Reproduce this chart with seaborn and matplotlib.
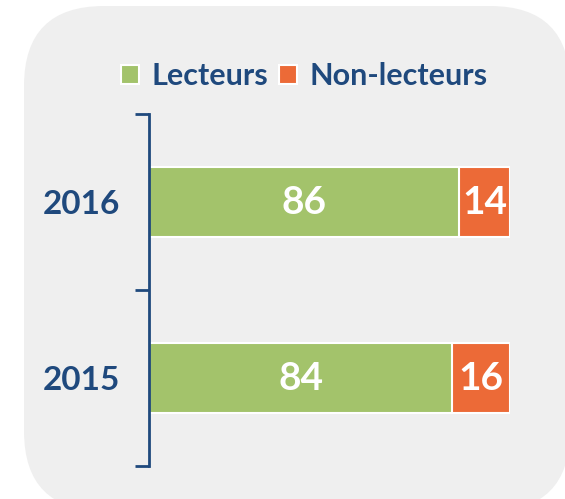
import matplotlib
matplotlib.use("Agg")
import matplotlib.pyplot as plt
from matplotlib.patches import FancyBboxPatch, Patch
import pandas as pd
import seaborn as sns

# data
years = ["2016", "2015"]
lecteurs = [86, 84]
non_lecteurs = [14, 16]

GREEN = "#A3C36B"
ORANGE = "#EC6A37"
NAVY = "#1F497D"
PANEL = "#EFEFEF"
WEIGHT = "bold"

df = pd.DataFrame({"annee": years, "lecteurs": lecteurs, "non_lecteurs": non_lecteurs})
df["total"] = df["lecteurs"] + df["non_lecteurs"]

sns.set_theme(style="white")
plt.rcParams["font.family"] = ["Lato", "DejaVu Sans"]

fig = plt.figure(figsize=(5.65, 4.99), dpi=100)
fig.patch.set_facecolor("white")

# rounded grey panel (pixel coordinates), kept behind the axes
panel = FancyBboxPatch((24, -12), 546, 505, boxstyle="round,pad=0,rounding_size=80",
                       transform=None, facecolor=PANEL, edgecolor="none", zorder=-5)
fig.patches.append(panel)

ax = fig.add_axes([0.2637, 0.0661, 0.639, 0.7054])
ax.set_facecolor("none")

# stacked bars: total (orange) underneath, lecteurs (green) on top
sns.barplot(data=df, x="total", y="annee", color=ORANGE, width=0.4,
            edgecolor="white", linewidth=1.5, saturation=1, ax=ax)
sns.barplot(data=df, x="lecteurs", y="annee", color=GREEN, width=0.4,
            edgecolor="white", linewidth=1.5, saturation=1, ax=ax)

for i, row in df.iterrows():
    ax.text(row["lecteurs"] / 2, i, str(row["lecteurs"]), ha="center", va="center",
            color="white", fontsize=28, fontweight=WEIGHT)
    ax.text(row["lecteurs"] + row["non_lecteurs"] / 2, i, str(row["non_lecteurs"]),
            ha="center", va="center", color="white", fontsize=28, fontweight=WEIGHT)

ax.set_xlim(0, 100)
ax.set_ylim(1.5, -0.5)
ax.set_xlabel("")
ax.set_ylabel("")
ax.set_xticks([])

# category labels without ticks, separators as minor ticks
ax.set_yticks([0, 1])
ax.set_yticklabels(years, fontsize=24, fontweight=WEIGHT, color=NAVY)
ax.tick_params(axis="y", which="major", length=0, pad=21)
ax.set_yticks([-0.5, 0.5, 1.5], minor=True)
ax.tick_params(axis="y", which="minor", left=True, length=10, width=2, color=NAVY, direction="out")

for side in ["top", "right", "bottom"]:
    ax.spines[side].set_visible(False)
ax.spines["left"].set_color(NAVY)
ax.spines["left"].set_linewidth(2)

handles = [Patch(facecolor=GREEN, edgecolor="white", linewidth=1.5, label="Lecteurs"),
           Patch(facecolor=ORANGE, edgecolor="white", linewidth=1.5, label="Non-lecteurs")]
leg = fig.legend(handles=handles, loc="center", bbox_to_anchor=(0.538, 0.847), ncol=2,
                 frameon=False, fontsize=22, handlelength=0.6, handleheight=0.6,
                 handletextpad=0.4, columnspacing=0.35)
for t in leg.get_texts():
    t.set_color(NAVY)
    t.set_fontweight(WEIGHT)

fig.savefig("out.png", dpi=100, facecolor=fig.get_facecolor())
